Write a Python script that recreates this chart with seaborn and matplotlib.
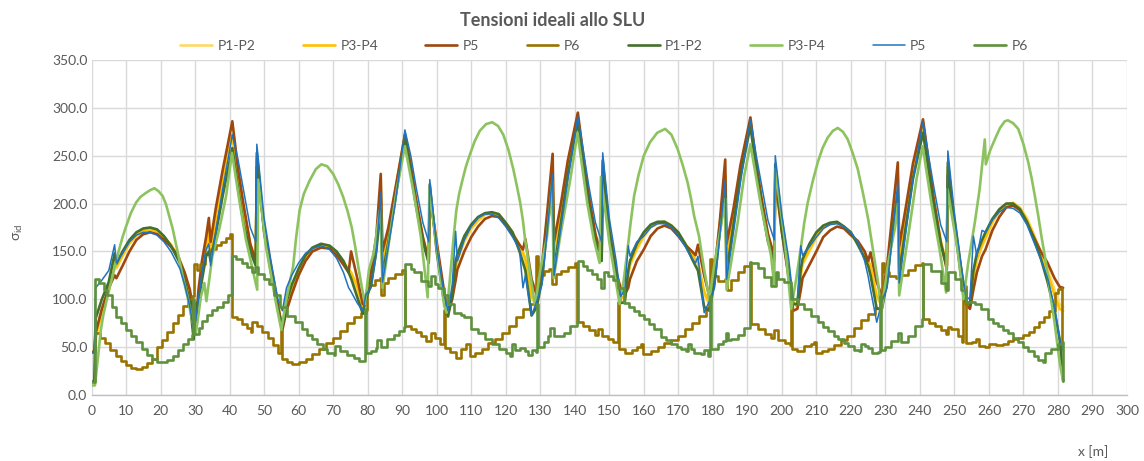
import matplotlib
matplotlib.use("Agg")
import matplotlib.pyplot as plt
import seaborn as sns

# ---------------------------------------------------------------------------
# Ideal stresses at ULS along the deck, x in metres
# ---------------------------------------------------------------------------

# shared abscissae for the five "envelope" curves (P1-P2, P3-P4, P5 series)
x_main = [
    0, 0.8, 1.2, 3, 5, 6.7, 7.2, 9, 11, 13, 15, 17, 19, 21, 23, 25, 25.6, 27, 28.5, 29.6, 30.2,
    31, 32, 33.2, 34, 34.5, 36, 38, 39.5, 40.8,
    42.5, 44, 46, 47.6, 47.9, 50, 52, 54, 55.3,
    56.5, 58, 60, 62, 64, 66.5, 69, 71, 73, 74.5, 75.2, 77, 78.6, 79.5,
    81, 82.5, 83.8, 84.3, 86, 88, 90.8,
    92.5, 94, 96, 97.7, 98, 100, 102, 103.3,
    104.5, 105.5, 106, 108, 110, 112, 114, 116, 118, 120, 122, 124, 125, 125.7, 127.5, 129,
    130.5, 132, 133.6, 134, 136, 138, 140.9,
    142.5, 144, 146, 147.8, 148.1, 150, 152, 153.3,
    154.5, 155.5, 156, 158, 160, 162, 164, 166, 168, 170, 172, 174, 175, 175.7, 177.5, 179,
    180.5, 182, 183.6, 184, 186, 188, 190.9,
    192.5, 194, 196, 197.8, 198.1, 200, 202, 203.3,
    204.5, 205.5, 206, 208, 210, 212, 214, 216, 218, 220, 222, 224, 225, 225.7, 227.5, 229,
    230.5, 232, 233.6, 234, 236, 238, 240.9,
    242.5, 244, 246, 247.8, 248.1, 250, 252, 253.3,
    254.5, 255.5, 256.5, 258, 259, 261, 263, 265, 267, 269, 271, 273, 275, 277, 279, 280.5, 281.5,
]

p12_a = [
    45, 45, 58, 85, 108, 138, 132, 145, 158, 166, 171, 173, 171, 165, 157, 145, 140, 124, 104, 78, 80,
    100, 125, 150, 165, 145, 178, 222, 250, 268,
    228, 192, 155, 138, 245, 172, 130, 92, 69,
    95, 110, 128, 144, 152, 157, 155, 149, 139, 130, 126, 110, 90, 100,
    122, 155, 205, 132, 168, 210, 270,
    236, 202, 163, 140, 212, 155, 105, 84,
    102, 132, 140, 160, 173, 182, 188, 190, 188, 180, 170, 156, 148, 140, 100, 95,
    128, 182, 225, 138, 188, 236, 289,
    245, 205, 165, 143, 237, 175, 130, 100,
    100, 125, 135, 152, 165, 175, 179, 181, 177, 169, 158, 146, 140, 138, 105, 95,
    125, 176, 222, 135, 185, 233, 285,
    242, 204, 164, 142, 232, 175, 130, 96,
    92, 125, 136, 150, 164, 174, 179, 180, 176, 169, 158, 147, 140, 133, 100, 95,
    125, 178, 220, 132, 186, 233, 282,
    240, 202, 160, 135, 235, 182, 128, 97,
    92, 122, 140, 155, 163, 180, 192, 199, 201, 196, 185, 168, 150, 132, 110, 95, 92,
]

p34_a = [
    45, 45, 62, 88, 110, 140, 134, 146, 159, 167, 172, 173, 171, 165, 157, 146, 141, 126, 106, 80, 82,
    102, 128, 152, 170, 148, 182, 226, 254, 272,
    230, 195, 156, 139, 248, 174, 132, 94, 70,
    96, 112, 130, 145, 153, 157, 155, 149, 139, 131, 128, 114, 92, 102,
    125, 158, 215, 135, 170, 212, 272,
    238, 204, 164, 142, 215, 157, 107, 85,
    103, 135, 142, 162, 175, 183, 189, 190, 188, 180, 169, 156, 149, 142, 103, 97,
    130, 185, 235, 140, 190, 238, 291,
    247, 207, 166, 144, 240, 177, 131, 102,
    102, 127, 137, 154, 167, 176, 180, 181, 177, 169, 158, 147, 141, 139, 108, 96,
    127, 178, 230, 138, 188, 235, 287,
    243, 206, 166, 144, 235, 177, 131, 97,
    93, 127, 138, 152, 166, 175, 179, 180, 176, 169, 159, 148, 141, 135, 103, 96,
    127, 180, 228, 135, 188, 236, 285,
    242, 204, 162, 136, 238, 184, 130, 98,
    93, 125, 142, 157, 165, 181, 193, 199, 200, 195, 183, 166, 148, 128, 104, 90, 88,
]

p5_a = [
    45, 45, 65, 90, 112, 125, 122, 135, 150, 162, 168, 170, 168, 162, 155, 146, 140, 128, 110, 85, 72,
    110, 140, 165, 185, 160, 195, 235, 262, 286,
    235, 200, 158, 140, 238, 175, 135, 95, 68,
    88, 105, 125, 140, 150, 154, 153, 146, 136, 128, 150, 122, 95, 100,
    130, 165, 231, 150, 175, 215, 272,
    240, 205, 165, 140, 208, 160, 112, 86,
    100, 120, 131, 150, 165, 176, 184, 187, 186, 178, 168, 157, 152, 163, 121, 104,
    135, 190, 252, 160, 200, 245, 295,
    250, 210, 168, 145, 229, 172, 128, 112,
    105, 112, 121, 140, 152, 166, 174, 177, 174, 166, 157, 150, 146, 157, 125, 103,
    130, 180, 246, 158, 195, 240, 290,
    245, 208, 168, 145, 225, 170, 122, 88,
    90, 110, 122, 136, 150, 165, 172, 176, 174, 167, 161, 150, 140, 149, 118, 103,
    135, 188, 243, 155, 198, 242, 288,
    245, 205, 160, 131, 229, 180, 130, 95,
    90, 110, 128, 145, 152, 172, 186, 196, 198, 193, 180, 165, 150, 138, 122, 113, 112,
]

p12_b = [
    14, 14, 80, 100, 118, 148, 137, 150, 162, 170, 174, 175, 173, 166, 156, 142, 138, 120, 97, 58, 95,
    98, 120, 145, 150, 140, 168, 208, 235, 258,
    215, 180, 150, 135, 253, 170, 128, 90, 70,
    98, 115, 132, 146, 154, 158, 156, 150, 140, 128, 122, 102, 85, 100,
    115, 150, 195, 125, 160, 205, 268,
    232, 198, 160, 138, 220, 150, 100, 82,
    105, 140, 147, 166, 178, 186, 190, 191, 189, 180, 170, 150, 138, 130, 83, 92,
    120, 175, 215, 130, 180, 230, 286,
    240, 200, 160, 140, 245, 170, 125, 96,
    97, 130, 140, 158, 170, 178, 181, 181, 177, 170, 158, 142, 135, 130, 92, 88,
    118, 170, 212, 128, 178, 228, 281,
    238, 200, 160, 140, 241, 172, 125, 95,
    95, 132, 142, 158, 170, 177, 180, 181, 176, 170, 157, 143, 135, 125, 90, 90,
    118, 170, 210, 125, 178, 226, 274,
    235, 198, 158, 135, 243, 178, 122, 98,
    95, 130, 148, 162, 170, 184, 194, 200, 200, 194, 181, 163, 143, 118, 88, 58, 15,
]

p5_b = [
    45, 45, 112, 120, 130, 157, 138, 148, 160, 167, 170, 170, 167, 160, 150, 136, 132, 115, 92, 68, 78,
    100, 128, 152, 158, 135, 170, 215, 245, 272,
    245, 215, 175, 160, 262, 185, 140, 100, 88,
    112, 125, 138, 148, 153, 156, 152, 143, 128, 112, 108, 96, 88, 105,
    112, 148, 211, 118, 155, 200, 277,
    250, 218, 180, 160, 225, 155, 108, 88,
    115, 171, 140, 162, 176, 185, 189, 189, 185, 176, 165, 152, 112, 125, 83, 98,
    115, 170, 231, 125, 175, 225, 291,
    255, 220, 180, 160, 253, 185, 140, 103,
    110, 156, 145, 160, 166, 175, 179, 179, 175, 166, 155, 142, 138, 145, 86, 98,
    112, 165, 225, 121, 170, 222, 288,
    252, 222, 182, 162, 250, 188, 142, 100,
    100, 156, 146, 155, 165, 174, 178, 179, 176, 170, 160, 140, 124, 110, 76, 98,
    112, 165, 222, 117, 172, 225, 286,
    250, 218, 178, 160, 255, 190, 135, 103,
    100, 166, 145, 172, 170, 183, 191, 196, 195, 190, 178, 160, 142, 122, 92, 58, 46,
]

# second P3-P4 curve (large mid-span arches)
x_p34_b = [
    0, 1.0, 1.9, 2.7, 3.4, 4.2, 5.1, 6.1, 7, 8, 9, 10, 11.4, 12.9, 14.2, 15.7, 17, 18.2, 19.4,
    20.6, 21.6, 22.5, 23.5, 24.4, 25.4, 26.4, 27.8, 29.3, 30.2,
    31.7, 32.7, 33.3, 35, 37, 39, 40.7, 42.8, 44.7, 46.7, 48.0, 48.3, 50.5, 53.4, 55.0,
    56.4, 57.4, 58.4, 59.3, 60.3, 61.5, 63.2, 65, 66.6, 68.3, 70, 71.5, 72.9, 74.2, 75.4, 76.4,
    77.3, 78.3, 79.2,
    80.4, 81.8, 83.3, 83.8, 84.3, 86.7, 88.6, 90.8, 93.5, 95.4, 97.4, 97.9, 100.3, 102.2, 102.9,
    103.6, 104.3, 105, 105.7, 106.5, 107.5, 108.5, 109.6, 111, 112.5, 114.3, 116.1, 117.8, 119.3,
    120.8, 122.2, 123.2, 124.2, 125, 125.6, 126.3, 127, 127.8, 128.5,
    130, 132, 133.5, 133.9, 135.8, 138.7, 140.8, 143.6, 145.5, 147.2, 147.6, 150, 153,
    154.2, 155.2, 156.2, 157.2, 158.5, 160, 161.8, 163.9, 166.2, 168, 169.8, 171.3, 172.7, 173.7,
    174.6, 176, 177.5, 178.3, 179,
    180.4, 182.4, 183.6, 184, 187.2, 189.1, 190.9, 194, 196.9, 197.8, 198.1, 200.7, 202.7,
    204.2, 205.6, 206.5, 207.5, 209, 210.4, 211.8, 213.3, 214.8, 216.2, 217.7, 219.1, 220.5, 222,
    223.5, 225, 226.4, 227.9, 228.8,
    230.8, 232.7, 233.6, 234, 236.6, 239, 240.8, 243.3, 245.7, 247.6, 248, 251, 252.6,
    254, 255, 255.9, 257.3, 258.8, 259.1, 260.4, 261.7, 263.2, 264.6, 265.5, 267, 268.5, 270,
    271.4, 272.4, 273.3, 274.3, 275.2, 276.2, 277.1, 278, 279, 280.5, 281.5,
]
p34_b = [
    10, 10, 40, 68, 83, 96, 110, 124, 138, 152, 165, 176, 190, 201, 207, 211, 214, 216, 213,
    208, 199, 187, 174, 159, 142, 124, 103, 76, 63,
    103, 117, 98, 145, 173, 208, 253, 204, 163, 131, 110, 225, 156, 97, 68,
    99, 117, 134, 165, 193, 210, 224, 236, 241, 239, 231, 220, 207, 192, 175, 155,
    134, 113, 95,
    131, 149, 187, 197, 112, 173, 218, 260, 208, 166, 102, 215, 145, 93, 86,
    112, 140, 168, 193, 210, 225, 239, 251, 265, 276, 283, 285, 281, 272,
    256, 236, 219, 201, 182, 163, 146, 128, 110, 93,
    130, 166, 222, 122, 166, 225, 274, 201, 163, 138, 228, 160, 95,
    120, 149, 180, 208, 230, 250, 264, 274, 278, 272, 257, 240, 222, 205,
    187, 166, 131, 115, 100,
    135, 177, 205, 110, 180, 229, 262, 197, 145, 114, 236, 166, 90,
    122, 156, 180, 201, 224, 243, 258, 269, 276, 279, 275, 267, 253, 236,
    211, 184, 152, 117, 86,
    138, 173, 200, 104, 166, 225, 260, 201, 152, 107, 215, 150, 100,
    138, 160, 180, 215, 267, 241, 256, 267, 279, 286, 287, 284, 278, 262,
    243, 226, 208, 187, 166, 145, 124, 100, 76, 34, 14,
]

# P6 curves (stepped)
x_p6_a = [
    0, 1, 2.5, 4, 5.5, 7, 8.5, 10, 11.5, 13, 14.5, 16, 17.5, 19, 20.5, 22, 23.5, 25, 26.5, 28, 29,
    29.8, 30.6, 31.5, 33, 34.5, 36, 37.5, 39, 40, 40.8, 42.2, 43.6, 45, 46.2, 46.6, 48, 49.5, 51,
    52.5, 54, 54.8, 55.3, 56.5, 58, 60, 62, 64, 66, 68, 70, 72, 74, 76, 78, 79.4, 79.8, 82, 83.6,
    83.9, 84.6, 86, 88, 90, 90.9, 92.5, 94, 95.5, 97, 98.3, 99.5, 101, 102.2, 102.5, 104, 105.5,
    107, 108.5, 109.8, 111, 113, 115, 117, 119, 121, 123, 125, 127, 128.5, 128.8, 129.3, 131,
    132.5, 133.5, 134.5, 136, 138, 140, 140.8, 142.5, 144, 145.8, 146.7, 148, 149.5, 151, 152.6,
    152.9, 154.5, 156.5, 158, 159.2, 159.8, 162, 164, 166, 168, 170, 172, 174, 176, 178, 179,
    179.3, 179.7, 181.5, 183.5, 184, 185.3, 187.2, 189.1, 190.8, 191, 193, 195, 196.9, 197.8,
    199, 201, 202.5, 202.7, 203, 204.5, 206.5, 208.5, 209.4, 209.8, 211.5, 213.3, 215, 217, 219,
    221, 223, 225, 227, 228.5, 228.9, 229.5, 231, 233, 234.6, 236.6, 238.5, 240.6, 240.9, 242.5,
    244.3, 246, 247.6, 248.2, 249, 251, 252.3, 252.6, 253.3, 255, 256.3, 257, 258.8, 260, 262,
    264, 265.5, 267, 268.5, 270, 271.5, 273, 274.5, 276, 277.5, 279, 280, 281, 281.2,
]
p6_a = [
    45, 65, 60, 54, 47, 41, 36, 31, 28, 27, 29, 33, 38, 50, 57, 66, 75, 84, 93, 100, 103,
    137, 131, 137, 147, 153, 157, 160, 164, 168, 82, 79, 74, 70, 66, 76, 72, 66, 60,
    52, 44, 68, 38, 34, 32, 35, 38, 43, 48, 54, 60, 67, 75, 81, 86, 89, 115, 120, 122,
    104, 117, 122, 126, 131, 72, 69, 66, 62, 56, 65, 60, 53, 89, 49, 45, 39,
    48, 53, 41, 44, 48, 54, 59, 65, 72, 82, 90, 95, 99, 145, 125, 130,
    132, 116, 126, 130, 134, 138, 76, 72, 68, 63, 69, 62, 58, 55, 97,
    48, 44, 47, 50, 53, 43, 46, 50, 54, 57, 62, 69, 75, 83, 91, 95,
    142, 124, 119, 121, 110, 120, 128, 135, 139, 74, 69, 64, 60, 68,
    57, 54, 52, 104, 48, 46, 51, 53, 55, 44, 46, 48, 52, 57, 62,
    70, 78, 85, 91, 95, 138, 128, 124, 122, 125, 131, 136, 138, 79, 75,
    72, 68, 64, 71, 69, 62, 55, 114, 54, 55, 58, 51, 50, 53, 52,
    53, 56, 58, 60, 63, 66, 71, 76, 81, 88, 107, 111, 112, 48,
]

x_p6_b = [
    0, 0.9, 1.1, 2.2, 3.5, 4.5, 6, 7, 8.5, 10, 11.5, 13, 14.5, 16, 17.5, 19, 20.6, 22, 23.5, 25,
    26.5, 28, 29.2, 29.5, 29.8, 31, 32, 33.5, 35, 36.5, 38, 39.5, 40.6, 40.8, 42, 43.5, 45, 46.5,
    47.3, 48.2, 50, 51.5, 53, 54.5, 56.6, 59, 61, 62.4, 64, 65.3, 67, 68.3, 70.2, 70.6, 72, 74,
    76, 77.5, 79, 79.2, 79.5, 81, 82.3, 82.8, 84, 85.7, 87.7, 89, 90.6, 90.9, 92.5, 93.5, 95.4,
    97.4, 98.4, 99.5, 100.3, 102, 103.2, 105.1, 107, 108, 110, 112, 114, 116, 118, 120, 121.3,
    121.8, 122.8, 124, 125.5, 126.6, 127.6, 128.8, 129.1, 129.4, 131, 132.2, 132.8, 134, 136.8,
    138.7, 140.7, 140.9, 142.5, 143.6, 145, 146.5, 147.5, 148.4, 149.5, 151, 152.5, 154.3,
    155.8, 157.2, 158.6, 160, 161.5, 163, 165, 166.5, 168, 169.5, 170.8, 172.3, 172.7, 173.7,
    174.6, 176.6, 177.5, 178.5, 179, 179.3, 179.6, 181.4, 182.9, 183.8, 184.5, 185.3, 187.2,
    189.1, 190.7, 190.9, 193, 194.9, 196.9, 198.3, 198.8, 200.7, 202.7, 204.6, 206.5, 208.5,
    210.4, 212, 213.3, 215, 216.2, 218, 219.1, 221, 222.5, 223, 224, 225, 226, 228, 228.4, 228.7,
    229.8, 231.7, 233.7, 234.4, 236.6, 238.5, 240.7, 240.9, 243.3, 246.2, 247.7, 248.2, 250.1,
    252, 253.5, 255.9, 257.8, 259.8, 261.3, 262.7, 264, 265.5, 267, 268.5, 270, 271.4, 273,
    274.3, 275.7, 276.2, 278.1, 280, 281.2, 281.5,
]
p6_b = [
    14, 14, 121, 117, 110, 104, 92, 82, 75, 68, 62, 55, 48, 42, 38, 35, 34, 37, 41, 47,
    53, 58, 63, 100, 64, 70, 77, 84, 89, 92, 97, 104, 112, 145, 142, 138, 134, 129,
    134, 126, 121, 116, 105, 92, 83, 76, 69, 63, 58, 53, 48, 44, 42, 51, 46, 42,
    39, 36, 36, 90, 44, 46, 49, 57, 50, 58, 63, 67, 71, 137, 132, 128, 119,
    114, 124, 116, 112, 105, 95, 86, 84, 82, 69, 65, 58, 53, 48, 44, 41,
    53, 47, 49, 46, 42, 47, 45, 95, 50, 55, 62, 70, 62, 65,
    72, 76, 140, 135, 131, 126, 121, 112, 129, 124, 120, 112, 96,
    92, 88, 84, 79, 74, 69, 61, 57, 53, 50, 48, 46, 53, 48,
    44, 43, 47, 41, 41, 103, 48, 53, 56, 65, 57, 59, 63,
    70, 74, 138, 133, 123, 114, 128, 121, 118, 100, 95, 90, 83,
    76, 71, 67, 62, 58, 54, 51, 47, 46, 53, 51, 49, 44, 45, 103, 47,
    50, 56, 65, 55, 62, 72, 79, 137, 130, 117, 110, 128, 121,
    110, 97, 95, 90, 79, 75, 72, 68, 65, 60, 55, 50, 46, 41,
    37, 34, 44, 48, 53, 55, 15,
]

series_labels = ["P1-P2", "P3-P4", "P5", "P6", "P1-P2", "P3-P4", "P5", "P6"]
colors = ["#FFD966", "#FFC000", "#9E480E", "#997300",
          "#43702C", "#8DC35F", "#2173BE", "#5E913D"]

sns.set_theme(style="white")
plt.rcParams["font.family"] = ["Lato", "DejaVu Sans"]

fig = plt.figure(figsize=(11.44, 4.61), dpi=100)
ax = fig.add_axes([91.5 / 1144, 1 - 395 / 461, (1127 - 91.5) / 1144, (395 - 60) / 461])

curves = [
    (x_main, p12_a, 1.9, None),
    (x_main, p34_a, 1.9, None),
    (x_main, p5_a, 1.9, None),
    (x_p6_a, p6_a, 1.9, "steps-post"),
    (x_main, p12_b, 1.9, None),
    (x_p34_b, p34_b, 1.9, None),
    (x_main, p5_b, 1.1, None),
    (x_p6_b, p6_b, 1.9, "steps-post"),
]

for (xs, ys, lw, ds), lab, col in zip(curves, series_labels, colors):
    kw = {"drawstyle": ds} if ds else {}
    sns.lineplot(x=xs, y=ys, ax=ax, color=col, linewidth=lw, sort=False,
                 estimator=None, label=lab, legend=False, **kw)

ax.set_xlim(0, 300)
ax.set_ylim(0, 350)
ax.set_xticks(range(0, 301, 10))
ax.set_yticks(range(0, 351, 50))
ax.set_yticklabels([f"{v:.1f}" for v in range(0, 351, 50)])
ax.grid(True, color="#D9D9D9", linewidth=1.0)
ax.set_axisbelow(True)
for side in ["top", "right", "left"]:
    ax.spines[side].set_visible(False)
ax.spines["bottom"].set_color("#BFBFBF")
ax.spines["bottom"].set_linewidth(1.0)
ax.tick_params(axis="both", length=0, labelsize=10, labelcolor="#595959")
ax.tick_params(axis="y", pad=3)
ax.tick_params(axis="x", pad=7)
ax.set_xlabel("")
ax.set_ylabel("")

fig.text(18 / 1144, 1 - 232 / 461, r"$\mathregular{\sigma_{id}}$", rotation=90,
         ha="center", va="center", fontsize=10, color="#595959")
fig.text(1108 / 1144, 1 - 452 / 461, "x [m]", ha="right", va="center",
         fontsize=10, color="#595959")
fig.text(553 / 1144, 1 - 20 / 461, "Tensioni ideali allo SLU", ha="center", va="center",
         fontsize=13, fontweight="bold", color="#595959")

handles = ax.get_lines()[:8]
fig.legend(handles, series_labels, loc="center", bbox_to_anchor=(604 / 1144, 1 - 46 / 461),
           ncol=8, frameon=False, fontsize=10, handlelength=2.3, handletextpad=0.4,
           columnspacing=3.4, labelcolor="#595959")

fig.savefig("out.png", dpi=100)
